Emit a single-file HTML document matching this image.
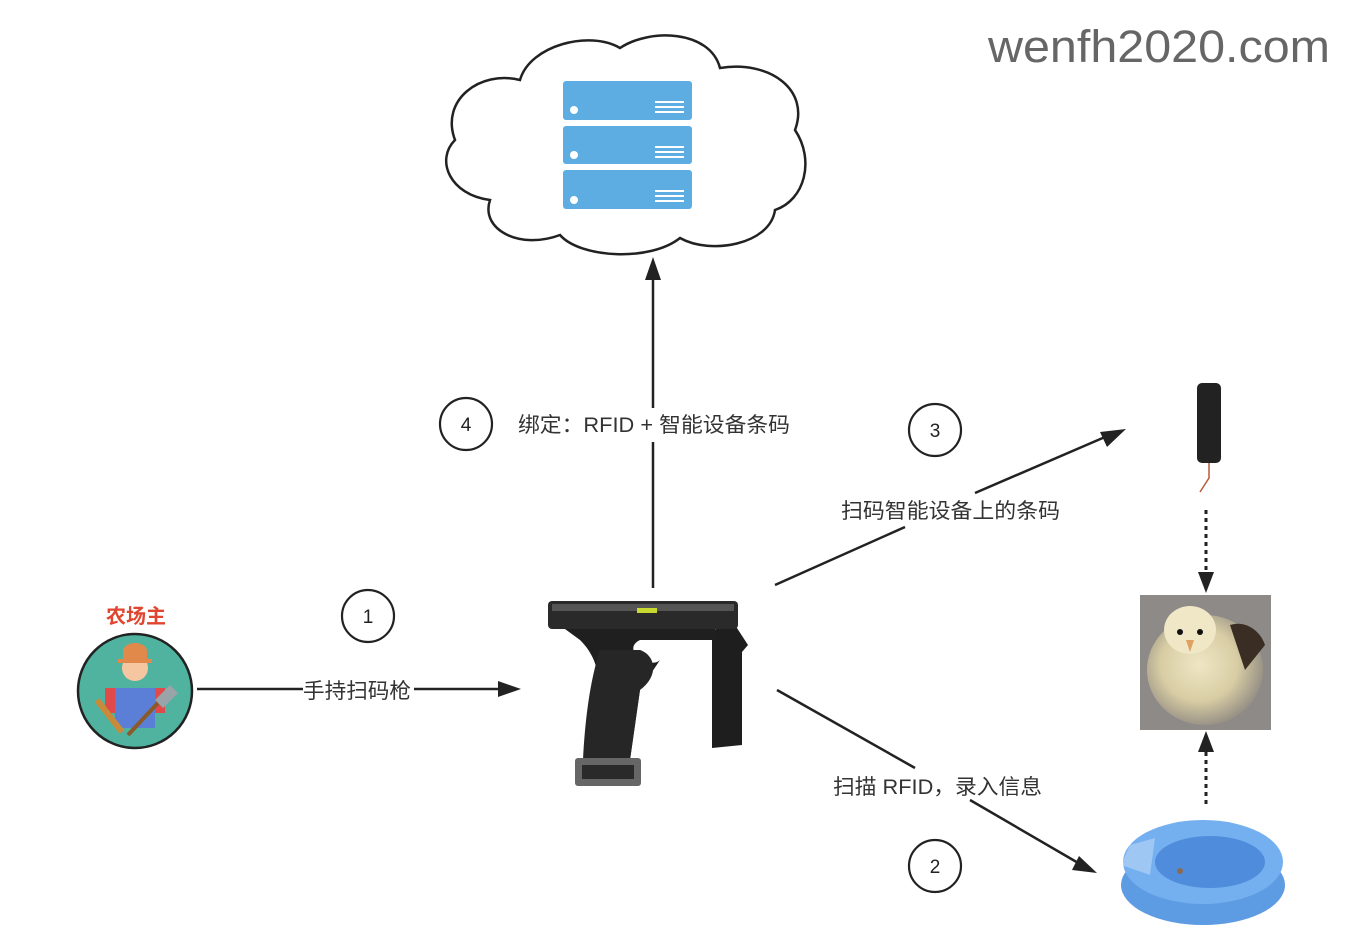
<!DOCTYPE html>
<html><head><meta charset="utf-8"><style>
html,body{margin:0;padding:0;background:#fff;}
svg{display:block;}
text{font-family:"Liberation Sans","Noto Sans CJK SC",sans-serif;}
</style></head><body>
<svg width="1354" height="946" viewBox="0 0 1354 946" xmlns="http://www.w3.org/2000/svg">
<defs>
<radialGradient id="chick" cx="0.45" cy="0.45" r="0.6"><stop offset="0" stop-color="#efe6c4"/><stop offset="0.55" stop-color="#d8cda4"/><stop offset="1" stop-color="#8d8780"/></radialGradient>
</defs>
<rect width="1354" height="946" fill="#fff"/>
<text x="1330" y="62" text-anchor="end" font-size="45" fill="#666" textLength="342" lengthAdjust="spacingAndGlyphs">wenfh2020.com</text>
<!-- cloud -->
<path d="M520,80 C530,45 590,30 620,48 C650,28 710,30 720,68 C770,60 810,90 795,130 C815,160 805,200 775,210 C770,245 710,255 680,238 C650,262 580,258 560,235 C520,250 480,230 490,200 C450,195 435,160 455,140 C440,100 480,70 520,80 Z" fill="#fff" stroke="#222" stroke-width="2.5"/>
<g fill="#5dade2">
<rect x="563" y="81" width="129" height="39" rx="3"/>
<rect x="563" y="126" width="129" height="38" rx="3"/>
<rect x="563" y="170" width="129" height="39" rx="3"/>
</g>
<g fill="#fff"><circle cx="574" cy="110" r="4"/><circle cx="574" cy="155" r="4"/><circle cx="574" cy="200" r="4"/></g>
<g stroke="#fff" stroke-width="2">
<path d="M655,102h29M655,107h29M655,112h29M655,147h29M655,152h29M655,157h29M655,191h29M655,196h29M655,201h29"/>
</g>
<g stroke="#222" stroke-width="2.5" fill="none">
<path d="M653,588V442M653,408V275"/>
<path d="M197,689H303M414,689H500"/>
<path d="M775,585L905,527M975,493L1105,437"/>
<path d="M777,690L915,768M970,800L1080,864"/>
</g>
<g fill="#222">
<path d="M653,257L645,280H661Z"/>
<path d="M521,689L498,681V697Z"/>
<path d="M1126,429L1100,432L1107,447Z"/>
<path d="M1097,873L1079,856L1072,870Z"/>
<path d="M1206,593L1198,572H1214Z"/>
<path d="M1206,731L1198,752H1214Z"/>
</g>
<g stroke="#222" stroke-width="3" stroke-dasharray="4,4">
<path d="M1206,510V572M1206,752V806"/>
</g>
<g fill="none" stroke="#222" stroke-width="2.2">
<circle cx="466" cy="424" r="26"/><circle cx="935" cy="430" r="26"/>
<circle cx="368" cy="616" r="26"/><circle cx="935" cy="866" r="26"/>
</g>
<g font-size="19" fill="#222" text-anchor="middle">
<text x="466" y="431">4</text><text x="935" y="437">3</text>
<text x="368" y="623">1</text><text x="935" y="873">2</text>
</g>
<g font-size="21" fill="#333">
<text x="518" y="432" textLength="272" lengthAdjust="spacingAndGlyphs">绑定：RFID + 智能设备条码</text>
<text x="841" y="518" textLength="219" lengthAdjust="spacingAndGlyphs">扫码智能设备上的条码</text>
<text x="833" y="794" textLength="209" lengthAdjust="spacingAndGlyphs">扫描 RFID，录入信息</text>
<text x="303" y="698" textLength="108" lengthAdjust="spacingAndGlyphs">手持扫码枪</text>
</g>
<text x="136" y="623" font-size="20" fill="#e0452f" text-anchor="middle" font-weight="bold">农场主</text>
<!-- farmer -->
<circle cx="135" cy="691" r="57" fill="#4fb3a0" stroke="#222" stroke-width="2.5"/>
<rect x="115" y="688" width="40" height="40" fill="#5b7fd6"/>
<rect x="105" y="688" width="10" height="25" fill="#e04a4a"/><rect x="155" y="688" width="10" height="25" fill="#e04a4a"/>
<circle cx="135" cy="668" r="13" fill="#f5c6a0"/>
<path d="M118,663h34v-4h-5v-8a12,8 0 0 0 -24,0v8h-5z" fill="#e0894a"/>
<path d="M128,735L170,690" stroke="#8b5a2b" stroke-width="4"/>
<path d="M155,700l15,-15 8,8-15,15z" fill="#9aa4a8"/>
<path d="M97,700l25,32" stroke="#c98a3a" stroke-width="6"/>
<!-- scanner -->
<path d="M712,630 L735,625 L748,645 L742,652 L742,745 L712,748 Z" fill="#1e1e1e"/>
<path d="M565,629 H715 V640 H640 C620,650 650,670 660,660 L640,690 L630,760 H585 L598,690 C600,665 590,650 580,640 Z" fill="#1f1f1f"/>
<path d="M600,650 C590,680 585,720 583,760 H630 L640,690 C660,675 655,655 640,650 Z" fill="#262626"/>
<rect x="548" y="601" width="190" height="28" rx="4" fill="#2a2a2a"/>
<rect x="552" y="604" width="182" height="7" fill="#555"/>
<rect x="637" y="608" width="20" height="5" fill="#c8d930"/>
<rect x="575" y="758" width="66" height="28" rx="3" fill="#666"/>
<rect x="582" y="765" width="52" height="14" fill="#2a2a2a"/>
<!-- device -->
<rect x="1197" y="383" width="24" height="80" rx="5" fill="#222"/>
<path d="M1209,463V478L1200,492" stroke="#b85a3a" stroke-width="1.5" fill="none"/>
<!-- chick -->
<rect x="1140" y="595" width="131" height="135" fill="#8d8a88"/>
<ellipse cx="1205" cy="670" rx="58" ry="55" fill="url(#chick)"/>
<ellipse cx="1190" cy="630" rx="26" ry="24" fill="#efe7c6"/>
<path d="M1230,625c15,-5 30,5 35,20l-20,25z" fill="#3a2e24"/>
<circle cx="1180" cy="632" r="3" fill="#111"/><circle cx="1200" cy="632" r="3" fill="#111"/>
<path d="M1186,640l8,0-4,12z" fill="#e0a060"/>
<!-- ring -->
<ellipse cx="1203" cy="885" rx="82" ry="40" fill="#5d9be3"/>
<ellipse cx="1203" cy="862" rx="80" ry="42" fill="#74afef"/>
<ellipse cx="1210" cy="862" rx="55" ry="26" fill="#4f8ddc"/>
<path d="M1121,865 1130,845 1155,838 1150,875z" fill="#fff" opacity="0.3"/>
<circle cx="1180" cy="871" r="3" fill="#8a6a50"/>
</svg>
</body></html>
